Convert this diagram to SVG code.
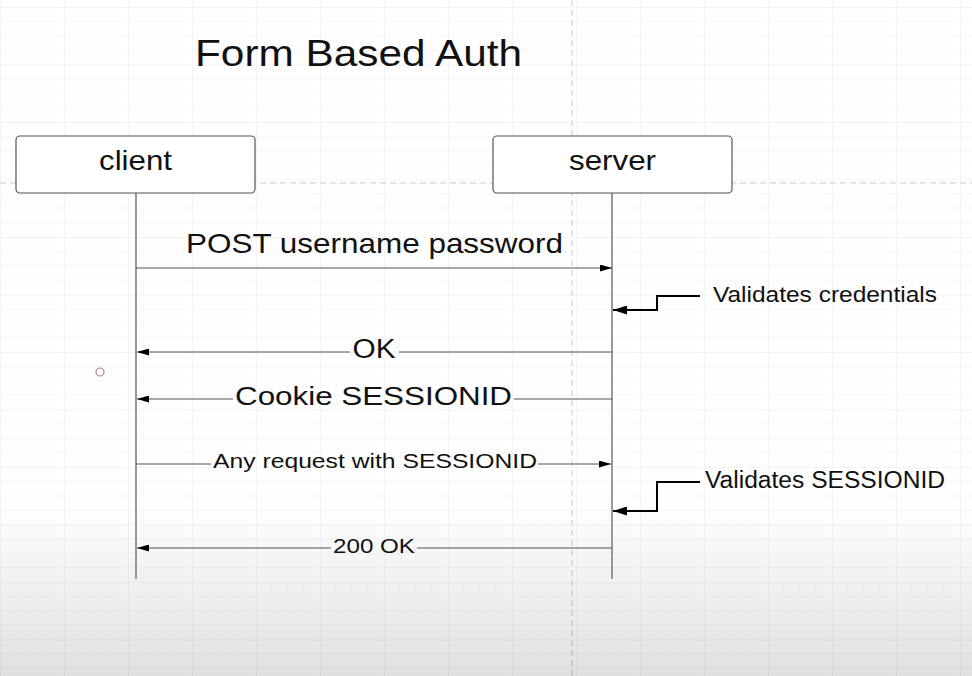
<svg xmlns="http://www.w3.org/2000/svg" width="972" height="676" viewBox="0 0 972 676">
<defs>
<pattern id="grid" x="0" y="7" width="64" height="57.5" patternUnits="userSpaceOnUse">
<path d="M16,0V57.5M32,0V57.5M48,0V57.5M0,14.375H64M0,28.75H64M0,43.125H64" stroke="#f6f6f6" stroke-width="1" fill="none"/>
<path d="M0,0V57.5M0,0H64" stroke="#e8e8e8" stroke-width="1" fill="none"/>
</pattern>
<linearGradient id="shade" x1="0" y1="0" x2="0" y2="1">
<stop offset="0" stop-color="#000" stop-opacity="0"/>
<stop offset="1" stop-color="#000" stop-opacity="0.12"/>
</linearGradient>
<marker id="ah" markerUnits="userSpaceOnUse" markerWidth="12" markerHeight="7" refX="12" refY="3.5" orient="auto">
<path d="M0,0L12,3.5L0,7z" fill="#000"/>
</marker>
<marker id="ahb" markerUnits="userSpaceOnUse" markerWidth="14" markerHeight="9" refX="14" refY="4.5" orient="auto">
<path d="M0,0L14,4.5L0,9z" fill="#000"/>
</marker>
</defs>
<style>
text{font-family:"Liberation Sans",Arial,sans-serif;fill:#111}
.box{fill:#fff;stroke:#555;stroke-width:1.2}
.life{stroke:#777;stroke-width:1.5;fill:none}
.msg{stroke:#555;stroke-width:1.2;fill:none}
.note{stroke:#000;stroke-width:2;fill:none}
.dash{stroke:#dcdcdc;stroke-width:1.5;stroke-dasharray:6 4;fill:none}
</style>
<rect width="972" height="676" fill="#fff"/>
<rect width="972" height="676" fill="url(#grid)"/>
<path class="dash" d="M572,0V676"/>
<path class="dash" d="M0,183H972"/>
<rect x="0" y="505" width="972" height="171" fill="url(#shade)"/>
<circle cx="100" cy="372" r="4" fill="none" stroke="#a88" stroke-width="1.2"/>
<text x="195" y="66" font-size="37" textLength="327" lengthAdjust="spacingAndGlyphs">Form Based Auth</text>
<g id="lifelines">
<path class="life" d="M136,193V579"/>
<path class="life" d="M612,193V579"/>
</g>
<g id="client">
<rect class="box" x="16" y="136" width="239" height="57" rx="4"/>
<text x="99" y="170" font-size="28" textLength="73" lengthAdjust="spacingAndGlyphs">client</text>
</g>
<g id="server">
<rect class="box" x="493" y="136" width="239" height="57" rx="4"/>
<text x="569" y="170" font-size="28" textLength="87" lengthAdjust="spacingAndGlyphs">server</text>
</g>
<g id="connectors">
<path class="msg" d="M136,268H612" marker-end="url(#ah)"/>
<path class="note" d="M700,296H657V310H613" marker-end="url(#ahb)"/>
<path class="msg" d="M612,352H399"/>
<path class="msg" d="M350,352H137" marker-end="url(#ah)"/>
<path class="msg" d="M612,399H514"/>
<path class="msg" d="M233,399H137" marker-end="url(#ah)"/>
<path class="msg" d="M136,464H211"/>
<path class="msg" d="M538,464H611" marker-end="url(#ah)"/>
<path class="note" d="M700,482H657V511H613" marker-end="url(#ahb)"/>
<path class="msg" d="M612,548H417"/>
<path class="msg" d="M331,548H137" marker-end="url(#ah)"/>
</g>
<g id="labels">
<text x="186" y="253" font-size="28" textLength="377" lengthAdjust="spacingAndGlyphs">POST username password</text>
<text x="713" y="302" font-size="22" textLength="224" lengthAdjust="spacingAndGlyphs">Validates credentials</text>
<text x="352.5" y="358" font-size="27" textLength="43" lengthAdjust="spacingAndGlyphs">OK</text>
<text x="235" y="405" font-size="26" textLength="277" lengthAdjust="spacingAndGlyphs">Cookie SESSIONID</text>
<text x="213" y="468" font-size="21" textLength="324" lengthAdjust="spacingAndGlyphs">Any request with SESSIONID</text>
<text x="705" y="488" font-size="23" textLength="240" lengthAdjust="spacingAndGlyphs">Validates SESSIONID</text>
<text x="333" y="553" font-size="21" textLength="82" lengthAdjust="spacingAndGlyphs">200 OK</text>
</g>
</svg>
